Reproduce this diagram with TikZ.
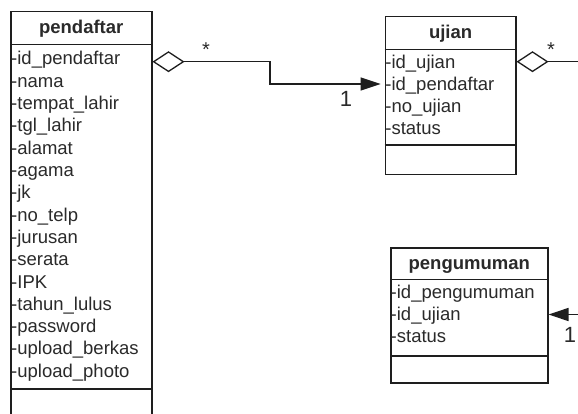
\documentclass[tikz,border=0pt]{standalone}
\usepackage{fontspec}
\setmainfont{Liberation Sans}
\usetikzlibrary{arrows.meta}
\definecolor{ink}{HTML}{1E1E1E}
\definecolor{txt}{HTML}{2A2A2A}
\begin{document}
\begin{tikzpicture}[x=1pt,y=-1pt,
  umlbox/.style={draw=ink, line width=1.5pt, fill=white, inner sep=0pt, anchor=north west},
  sepline/.style={draw=ink, line width=1.5pt},
  title/.style={font=\fontsize{18.5}{20}\selectfont\bfseries, text=txt, inner sep=0pt, anchor=base},
  attr/.style={font=\fontsize{18.5}{20}\selectfont, text=txt, inner sep=0pt, anchor=base west, text height=12.5pt, text depth=4pt},
  link/.style={draw=ink, line width=1.3pt},
  agg/.style={{Diamond[open, length=32pt, width=21pt]}-{Triangle[length=20pt, width=13pt]}},
  mult/.style={font=\fontsize{22}{24}\selectfont, text=txt, inner sep=0pt, anchor=base},
  star/.style={font=\fontsize{20}{22}\selectfont, text=txt, inner sep=0pt, anchor=base},
]
\useasboundingbox (0,0) rectangle (578,414);
\fill[white] (0,0) rectangle (578,414);
\clip (0,0) rectangle (578,414);

% ---------- pendaftar ----------
\node[umlbox, minimum width=141pt, minimum height=430pt] (pend) at (10,11) {};
\draw[sepline] (pend.west |- 0,44.5) -- (pend.east |- 0,44.5);
\draw[sepline] (pend.west |- 0,389) -- (pend.east |- 0,389);
\node[title] (pendT) at (pend.north |- 0,33.5) {pendaftar};
\node[attr] (p1)  at (11,65)    {-id\_pendaftar};
\node[attr] (p2)  at (11,87.3)  {-nama};
\node[attr] (p3)  at (11,109.6) {-tempat\_lahir};
\node[attr] (p4)  at (11,131.9) {-tgl\_lahir};
\node[attr] (p5)  at (11,154.2) {-alamat};
\node[attr] (p6)  at (11,176.5) {-agama};
\node[attr] (p7)  at (11,198.8) {-jk};
\node[attr] (p8)  at (11,221.1) {-no\_telp};
\node[attr] (p9)  at (11,243.4) {-jurusan};
\node[attr] (p10) at (11,265.7) {-serata};
\node[attr] (p11) at (11,288)   {-IPK};
\node[attr] (p12) at (11,310.3) {-tahun\_lulus};
\node[attr] (p13) at (11,332.6) {-password};
\node[attr] (p14) at (11,354.9) {-upload\_berkas};
\node[attr] (p15) at (11,377.2) {-upload\_photo};

% ---------- ujian ----------
\node[umlbox, minimum width=130.3pt, minimum height=158pt] (ujian) at (384.7,16) {};
\draw[sepline] (ujian.west |- 0,49.5) -- (ujian.east |- 0,49.5);
\draw[sepline] (ujian.west |- 0,145) -- (ujian.east |- 0,145);
\node[title] (ujianT) at (ujian.north |- 0,38.3) {ujian};
\node[attr] (u1) at (385.2,68.3)  {-id\_ujian};
\node[attr] (u2) at (385.2,90.3)  {-id\_pendaftar};
\node[attr] (u3) at (385.2,112.6) {-no\_ujian};
\node[attr] (u4) at (385.2,134.9) {-status};

% ---------- pengumuman ----------
\node[umlbox, minimum width=157pt, minimum height=135pt] (peng) at (390,247) {};
\draw[sepline] (peng.west |- 0,279.5) -- (peng.east |- 0,279.5);
\draw[sepline] (peng.west |- 0,356) -- (peng.east |- 0,356);
\node[title] (pengT) at (peng.north |- 0,269) {pengumuman};
\node[attr] (g1) at (390.5,298.3) {-id\_pengumuman};
\node[attr] (g2) at (390.5,320.3) {-id\_ujian};
\node[attr] (g3) at (390.5,342.6) {-status};

% ---------- connectors ----------
\coordinate (bendA) at (270,84);
\coordinate (bendB) at (592,61.7);
\draw[link, agg, shorten >=4pt] (pend.east |- 0,61.7) -| (bendA) -- (ujian.west |- bendA);
\draw[link, agg] (ujian.east |- 0,61.7) -- (bendB) |- (peng.east |- 0,314.5);

% ---------- multiplicities ----------
\node[star] (s1) at (206,57) {*};
\node[mult] (m1) at (346,107) {1};
\node[star] (s2) at (551,57) {*};
\node[mult] (m2) at (570,342) {1};
\end{tikzpicture}
\end{document}
